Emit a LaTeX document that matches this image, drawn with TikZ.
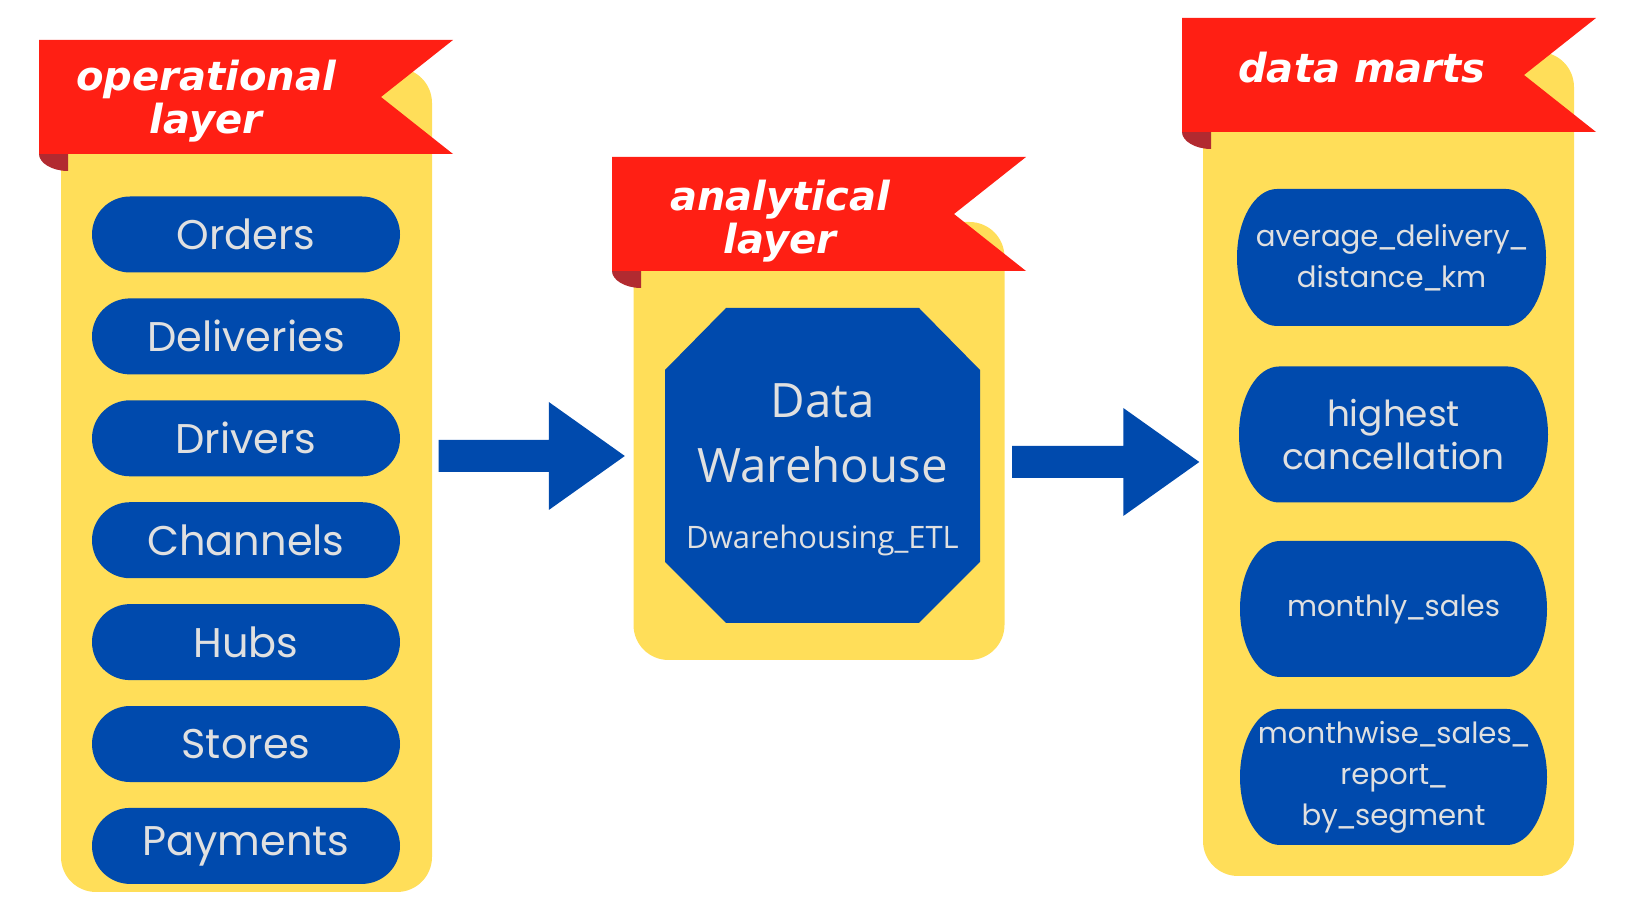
\documentclass[tikz,border=0pt]{standalone}
\usepackage{fontspec}
\setmainfont{Poppins}
\newfontfamily\whfont{Open Sans}
\newfontfamily\ribbonfont{DejaVu Sans}
\usetikzlibrary{positioning,calc,shapes.misc}

\definecolor{panelyellow}{HTML}{FFDE59}
\definecolor{tableblue}{HTML}{004AAD}
\definecolor{ribbonred}{HTML}{FF1F14}
\definecolor{ribbonfold}{HTML}{B22A30}
\definecolor{labelgrey}{HTML}{E0E0E0}

\tikzset{
  panel/.style={fill=panelyellow, rounded corners=3.5mm, minimum width=37.1mm, inner sep=0},
  tablepill/.style={rounded rectangle, fill=tableblue, text=labelgrey, minimum width=30.8mm, minimum height=7.6mm, inner sep=0, font=\fontsize{11.8}{14}\selectfont},
  martlabel/.style={text=labelgrey, align=center, font=\fontsize{8.3}{11.7}\selectfont},
  ribbontitle/.style={text=white, align=center, font=\ribbonfont\bfseries\itshape\fontsize{11.4}{10.8}\selectfont},
}

% tighter underscore
\newcommand{\us}{\kern-0.07em\_\kern-0.07em}

% ribbon with folded corner, #1,#2 = top left
\newcommand{\ribbon}[2]{%
  \fill[ribbonfold] (#1,#2) ++(0,114) -- ++(29,0) -- ++(0,17) .. controls +(-16,0) and +(0,9) .. ++(-29,-17) -- cycle;
  \fill[ribbonred] (#1,#2) -- ++(414,0) -- ++(-72,57) -- ++(72,57) -- ++(-414,0) -- cycle;}

% block arrow from #1 to tip #2
\newcommand{\bigarrow}[2]{%
  \fill[tableblue] ($(#1)+(0,-16)$) -- ($(#2)+(-76,-16)$) -- ($(#2)+(-76,-54)$) -- (#2) -- ($(#2)+(-76,54)$) -- ($(#2)+(-76,16)$) -- ($(#1)+(0,16)$) -- cycle;}

\begin{document}
\begin{tikzpicture}[x=0.1mm,y=-0.1mm]
\useasboundingbox (0,0) rectangle (1640,924);

% panels
\node[panel, minimum height=82.4mm] (oppanel) at (246.5,480) {};
\node[panel, minimum height=43.8mm] (anpanel) at (819,441) {};
\node[panel, minimum height=82.4mm] (dmpanel) at (1388.5,464) {};

% ribbons
\ribbon{39}{40}
\ribbon{612}{157}
\ribbon{1182}{18}
\node[ribbontitle] (optitle) at (206,101) {operational\\layer};
\node[ribbontitle] (antitle) at (780,221) {analytical\\layer};
\node[ribbontitle, anchor=base] (dmtitle) at (1362,83) {data marts};

% operational tables
\node[tablepill] (orders) at (246,234.5) {Orders};
\node[tablepill, below=2.45mm of orders] (deliveries) {Deliveries};
\node[tablepill, below=2.45mm of deliveries] (drivers) {Drivers};
\node[tablepill, below=2.45mm of drivers] (channels) {Channels};
\node[tablepill, below=2.45mm of channels] (hubs) {Hubs};
\node[tablepill, below=2.45mm of hubs] (stores) {Stores};
\node[tablepill, below=2.45mm of stores] (payments) {Payments};

% warehouse
\fill[tableblue] (726,308) -- (919,308) -- (980,370) -- (980,562) -- (919,623) -- (726,623) -- (665,562) -- (665,370) -- cycle;
\node[text=labelgrey, align=center, font=\whfont\fontsize{13.5}{18.5}\selectfont] (dwname) at (822.5,433.5) {Data\\Warehouse};
\node[text=labelgrey, anchor=base, font=\whfont\fontsize{8.8}{10}\selectfont] (dwetl) at (822.5,549) {Dwarehousing\_ETL};

% data marts
\fill[tableblue] (1277,189) -- (1506,189) arc[start angle=-90, end angle=90, x radius=40, y radius=68.5] -- (1277,326) arc[start angle=90, end angle=270, x radius=40, y radius=68.5] -- cycle;
\fill[tableblue] (1279,366.5) -- (1508,366.5) arc[start angle=-90, end angle=90, x radius=40, y radius=68] -- (1279,502.5) arc[start angle=90, end angle=270, x radius=40, y radius=68] -- cycle;
\fill[tableblue] (1280,541) -- (1507,541) arc[start angle=-90, end angle=90, x radius=40, y radius=68] -- (1280,677) arc[start angle=90, end angle=270, x radius=40, y radius=68] -- cycle;
\fill[tableblue] (1280,709) -- (1507,709) arc[start angle=-90, end angle=90, x radius=40, y radius=68] -- (1280,845) arc[start angle=90, end angle=270, x radius=40, y radius=68] -- cycle;
\node[martlabel] (avgdist) at (1391.5,257.5) {average\us delivery\us\\distance\us km};
\node[martlabel, font=\fontsize{10.2}{12.4}\selectfont] (cancel) at (1393.5,434.5) {highest\\cancellation};
\node[martlabel] (monthly) at (1393.5,609) {monthly\us sales};
\node[martlabel] (segment) at (1393.5,777) {monthwise\us sales\us\\report\us\\by\us segment};

% arrows
\coordinate (a1s) at ($(oppanel.east)+(6,-24)$);
\coordinate (a1e) at ($(anpanel.west)+(-8,15)$);
\coordinate (a2s) at ($(anpanel.east)+(7,21)$);
\coordinate (a2e) at ($(dmpanel.west)+(-3,-2)$);
\bigarrow{a1s}{a1e}
\bigarrow{a2s}{a2e}
\end{tikzpicture}
\end{document}
